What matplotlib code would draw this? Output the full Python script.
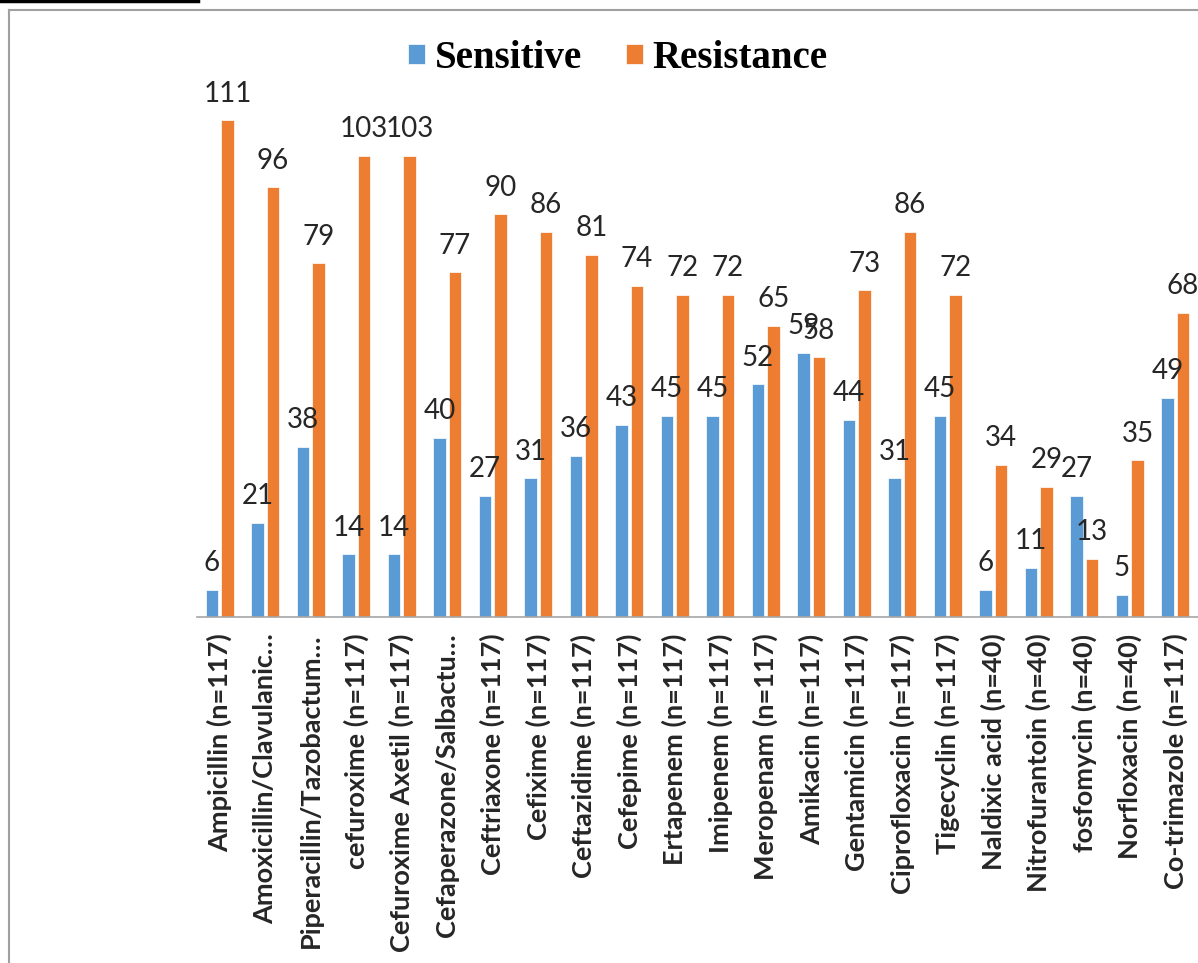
import matplotlib
matplotlib.use("Agg")
import matplotlib.pyplot as plt
from matplotlib.lines import Line2D
import numpy as np

drugs = ["Ampicillin (n=117)", "Amoxicillin/Clavulanic\u2026", "Piperacillin/Tazobactum\u2026",
         "cefuroxime (n=117)", "Cefuroxime Axetil (n=117)", "Cefaperazone/Salbactu\u2026",
         "Ceftriaxone (n=117)", "Cefixime (n=117)", "Ceftazidime (n=117)", "Cefepime (n=117)",
         "Ertapenem (n=117)", "Imipenem (n=117)", "Meropenam (n=117)", "Amikacin (n=117)",
         "Gentamicin (n=117)", "Ciprofloxacin (n=117)", "Tigecyclin (n=117)",
         "Naldixic acid (n=40)", "Nitrofurantoin (n=40)", "fosfomycin (n=40)",
         "Norfloxacin (n=40)", "Co-trimazole (n=117)"]
sensitive = [6, 21, 38, 14, 14, 40, 27, 31, 36, 43, 45, 45, 52, 59, 44, 31, 45, 6, 11, 27, 5, 49]
resistance = [111, 96, 79, 103, 103, 77, 90, 86, 81, 74, 72, 72, 65, 58, 73, 86, 72, 34, 29, 13, 35, 68]

blue = "#5B9BD5"
orange = "#ED7D31"

fig = plt.figure(figsize=(11.98, 9.63), dpi=100)
W, H = 1198, 963
ax = fig.add_axes([197 / W, 1 - 617 / H, 1 - 197 / W, (617 - 80) / H])

x = np.arange(len(drugs))
bw = 0.28
off = 0.17
b1 = ax.bar(x - off, sensitive, bw, color=blue, edgecolor="white", linewidth=0.5, label="Sensitive")
b2 = ax.bar(x + off, resistance, bw, color=orange, edgecolor="white", linewidth=0.5, label="Resistance")

for bars in (b1, b2):
    for rect in bars:
        h = rect.get_height()
        ax.annotate(str(int(h)), (rect.get_x() + rect.get_width() / 2, h),
                    xytext=(0, 13.5), textcoords="offset points",
                    ha="center", va="baseline", fontsize=20, family="Lato", color="#262626")

ax.set_xlim(-0.5, len(drugs) - 0.5)
ax.set_ylim(0, 120)
ax.set_yticks([])
ax.set_xticks(x)
ax.set_xticklabels(drugs, rotation=90, fontsize=19.5, family="Lato", fontweight="bold", color="#262626")
ax.tick_params(axis="x", length=0, pad=12)
for s in ("left", "right", "top"):
    ax.spines[s].set_visible(False)
ax.spines["bottom"].set_color("#A6A6A6")
ax.spines["bottom"].set_linewidth(1.2)

fig.legend(handles=[b1, b2], labels=["Sensitive", "Resistance"], loc="center",
           bbox_to_anchor=(618 / W, 1 - 58 / H), ncol=2, frameon=False,
           prop={"family": "Liberation Serif", "weight": "bold", "size": 28},
           handlelength=0.42, handleheight=0.42, handletextpad=0.25, columnspacing=1.15)

# chart frame and the rule above it
fig.add_artist(Line2D([9 / W, 9 / W], [0, 1 - 10 / H], color="#A0A0A0", lw=1.5, transform=fig.transFigure))
fig.add_artist(Line2D([9 / W, 1], [1 - 10 / H, 1 - 10 / H], color="#A0A0A0", lw=1.5, transform=fig.transFigure))
fig.add_artist(Line2D([0, 198 / W], [1 - 1.5 / H, 1 - 1.5 / H], color="black", lw=2.5, transform=fig.transFigure))

fig.savefig("out.png", dpi=100)
